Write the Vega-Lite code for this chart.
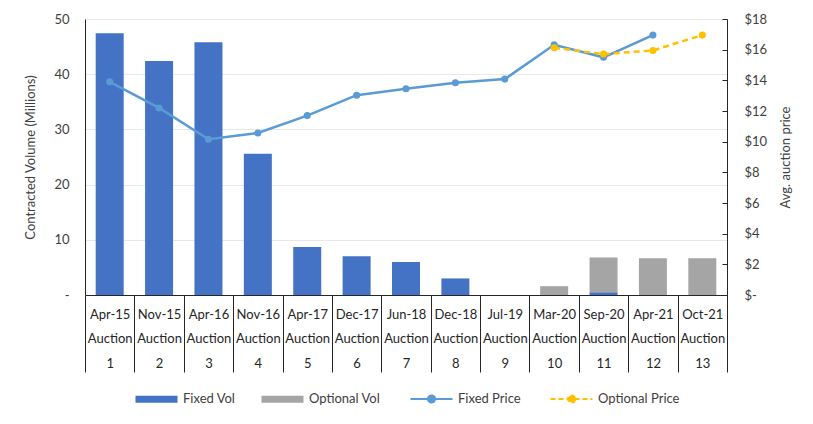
{
  "$schema": "https://vega.github.io/schema/vega-lite/v6.json",
  "width": 642,
  "height": 276,
  "autosize": {"type": "none"},
  "padding": {"left": 85, "top": 19, "right": 86, "bottom": 129},
  "background": "white",
  "config": {
    "font": "Lato",
    "view": {"stroke": null},
    "axis": {"labelColor": "#404040", "titleColor": "#404040", "labelFontSize": 13, "titleFontSize": 13, "titleFontWeight": "normal", "labelFont": "Lato", "titleFont": "Lato"}
  },
  "datasets": {
    "vol": [
      {"cat": "01|Apr-15", "series": "Fixed Vol", "vol": 47.4},
      {"cat": "02|Nov-15", "series": "Fixed Vol", "vol": 42.4},
      {"cat": "03|Apr-16", "series": "Fixed Vol", "vol": 45.8},
      {"cat": "04|Nov-16", "series": "Fixed Vol", "vol": 25.6},
      {"cat": "05|Apr-17", "series": "Fixed Vol", "vol": 8.7},
      {"cat": "06|Dec-17", "series": "Fixed Vol", "vol": 7.0},
      {"cat": "07|Jun-18", "series": "Fixed Vol", "vol": 6.0},
      {"cat": "08|Dec-18", "series": "Fixed Vol", "vol": 3.0},
      {"cat": "09|Jul-19", "series": "Fixed Vol", "vol": 0},
      {"cat": "10|Mar-20", "series": "Optional Vol", "vol": 1.6},
      {"cat": "11|Sep-20", "series": "Fixed Vol", "vol": 0.5},
      {"cat": "11|Sep-20", "series": "Optional Vol", "vol": 6.3},
      {"cat": "12|Apr-21", "series": "Optional Vol", "vol": 6.65},
      {"cat": "13|Oct-21", "series": "Optional Vol", "vol": 6.65}
    ],
    "price": [
      {"cat": "01|Apr-15", "series": "Fixed Price", "price": 13.9},
      {"cat": "02|Nov-15", "series": "Fixed Price", "price": 12.2},
      {"cat": "03|Apr-16", "series": "Fixed Price", "price": 10.16},
      {"cat": "04|Nov-16", "series": "Fixed Price", "price": 10.57},
      {"cat": "05|Apr-17", "series": "Fixed Price", "price": 11.7},
      {"cat": "06|Dec-17", "series": "Fixed Price", "price": 13.03},
      {"cat": "07|Jun-18", "series": "Fixed Price", "price": 13.45},
      {"cat": "08|Dec-18", "series": "Fixed Price", "price": 13.84},
      {"cat": "09|Jul-19", "series": "Fixed Price", "price": 14.08},
      {"cat": "10|Mar-20", "series": "Fixed Price", "price": 16.32},
      {"cat": "11|Sep-20", "series": "Fixed Price", "price": 15.5},
      {"cat": "12|Apr-21", "series": "Fixed Price", "price": 16.95},
      {"cat": "10|Mar-20", "series": "Optional Price", "price": 16.12},
      {"cat": "11|Sep-20", "series": "Optional Price", "price": 15.71},
      {"cat": "12|Apr-21", "series": "Optional Price", "price": 15.95},
      {"cat": "13|Oct-21", "series": "Optional Price", "price": 16.95}
    ]
  },
  "layer": [
    {
      "data": {"name": "vol"},
      "mark": {"type": "bar", "width": {"band": 0.567}},
      "encoding": {
        "x": {
          "field": "cat", "type": "nominal",
          "scale": {"paddingInner": 0, "paddingOuter": 0},
          "axis": {
            "title": null,
            "labelExpr": "isString(datum.value) ? [split(datum.value,'|')[1], 'Auction', '' + toNumber(split(datum.value,'|')[0])] : ''",
            "labelAngle": 0,
            "labelBaseline": "top",
            "labelLineHeight": 24.5,
            "labelPadding": -64,
            "labelColor": "#262626",
            "labelOverlap": false,
            "tickBand": "extent",
            "tickSize": 77,
            "tickColor": "#262626",
            "tickWidth": 1,
            "domainColor": "#262626",
            "grid": false
          }
        },
        "y": {
          "field": "vol", "type": "quantitative", "stack": "zero",
          "scale": {"domain": [0, 50]},
          "axis": {
            "title": "Contracted Volume (Millions)",
            "values": [0, 10, 20, 30, 40, 50],
            "labelExpr": "datum.value == 0 ? '-' : datum.label",
            "ticks": false,
            "labelPadding": 16,
            "titlePadding": 16,
            "domainColor": "#262626",
            "grid": true,
            "gridColor": "#E8E8E8"
          }
        },
        "color": {
          "field": "series", "type": "nominal",
          "scale": {
            "domain": ["Fixed Vol", "Optional Vol", "Fixed Price", "Optional Price"],
            "range": ["#4472C4", "#A5A5A5", "#5B9BD5", "#FFC000"]
          },
          "legend": {
            "title": null,
            "orient": "none",
            "direction": "horizontal",
            "legendX": 65,
            "legendY": 373,
            "columns": 4,
            "symbolSize": 1764,
            "labelOffset": 20,
            "columnPadding": 25,
            "labelFontSize": 13,
            "labelColor": "#404040",
            "labelFont": "Lato",
            "encode": {
              "symbols": {
                "update": {
                  "shape": {"signal": "(datum.value == 'Fixed Vol' || datum.value == 'Optional Vol') ? 'M-1,-0.17H1V0.17H-1Z' : 'M-1,0H1M0.17,0A0.17,0.17 0 1 1 -0.17,0A0.17,0.17 0 1 1 0.17,0'"},
                  "fill": {"signal": "scale('color', datum.value)"},
                  "stroke": {"signal": "scale('color', datum.value)"},
                  "strokeWidth": {"signal": "(datum.value == 'Fixed Vol' || datum.value == 'Optional Vol') ? 0 : 2"},
                  "strokeDash": {"signal": "datum.value == 'Optional Price' ? [5, 3] : [1, 0]"},
                  "opacity": {"value": 1},
                  "fillOpacity": {"value": 1}
                }
              }
            }
          }
        },
        "order": {"field": "series", "sort": "ascending"}
      }
    },
    {
      "data": {"name": "price"},
      "layer": [
        {
          "transform": [{"filter": "datum.series == 'Fixed Price'"}],
          "mark": {"type": "line", "strokeWidth": 2.5, "point": {"filled": true, "size": 50}},
          "encoding": {
            "x": {"field": "cat", "type": "nominal"},
            "y": {
              "field": "price", "type": "quantitative",
              "scale": {"domain": [0, 18]},
              "axis": {
                "orient": "right",
                "title": "Avg. auction price",
                "titleAngle": 270,
                "values": [0, 2, 4, 6, 8, 10, 12, 14, 16, 18],
                "labelExpr": "datum.value == 0 ? '$-' : '$' + datum.value",
                "labelOverlap": false,
                "tickSize": -5,
                "labelPadding": 22,
                "titlePadding": 26,
                "tickColor": "#262626",
                "domainColor": "#262626",
                "grid": false
              }
            },
            "color": {"field": "series", "type": "nominal"}
          }
        },
        {
          "transform": [{"filter": "datum.series == 'Optional Price'"}],
          "mark": {"type": "line", "strokeWidth": 2.5, "strokeDash": [6, 4], "point": {"filled": true, "size": 50}},
          "encoding": {
            "x": {"field": "cat", "type": "nominal"},
            "y": {
              "field": "price", "type": "quantitative",
              "axis": {
                "orient": "right",
                "title": "Avg. auction price",
                "titleAngle": 270,
                "values": [0, 2, 4, 6, 8, 10, 12, 14, 16, 18],
                "labelExpr": "datum.value == 0 ? '$-' : '$' + datum.value",
                "labelOverlap": false,
                "tickSize": -5,
                "labelPadding": 22,
                "titlePadding": 26,
                "tickColor": "#262626",
                "domainColor": "#262626",
                "grid": false
              }
            },
            "color": {"field": "series", "type": "nominal"}
          }
        }
      ]
    }
  ],
  "resolve": {"scale": {"y": "independent"}}
}
